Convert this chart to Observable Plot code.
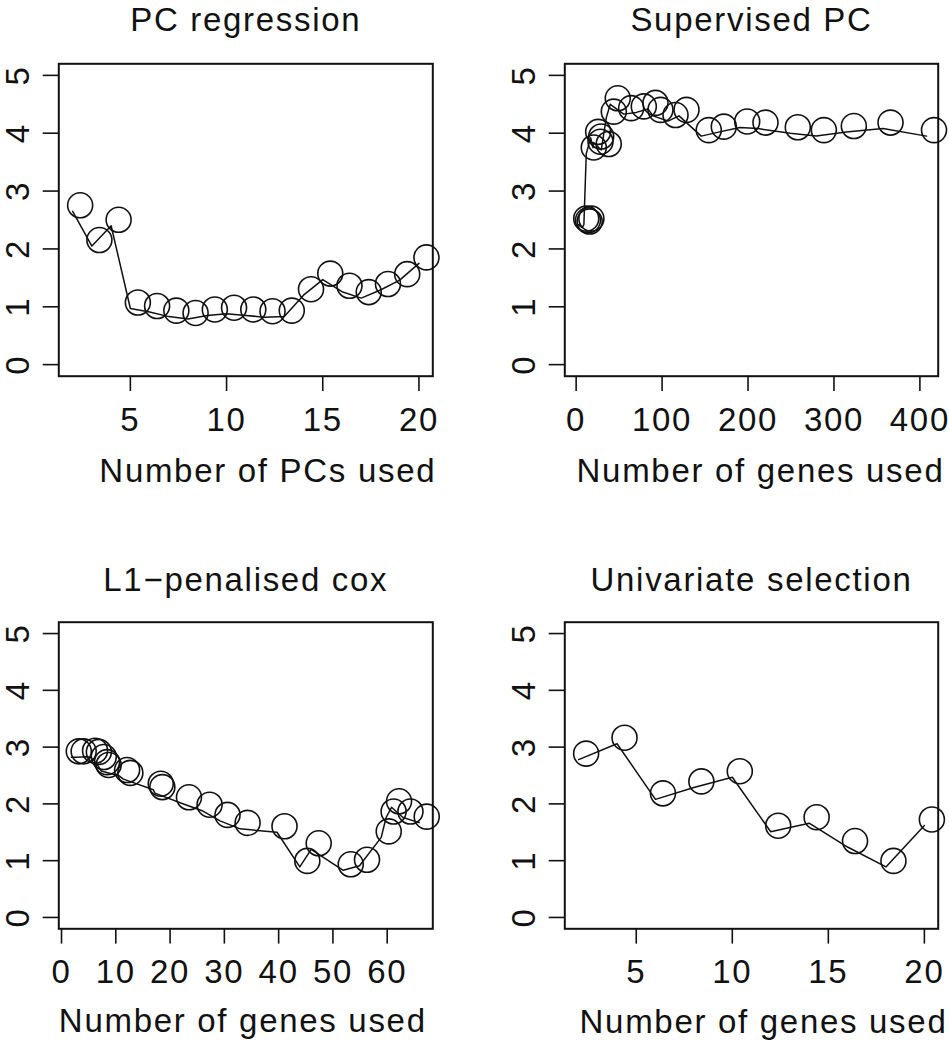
<!DOCTYPE html>
<html>
<head>
<meta charset="utf-8">
<script src="https://cdn.jsdelivr.net/npm/d3@7"></script>
<script src="https://cdn.jsdelivr.net/npm/@observablehq/plot@0.6"></script>
<style>
  html, body { margin: 0; padding: 0; background: #fff; }
  #wrap { position: relative; width: 949px; height: 1050px; overflow: hidden; background: #fff; }
  #wrap > svg { position: absolute; }
</style>
</head>
<body>
<div id="wrap"></div>
<script>
// ---- Data ----
const titles = ["PC regression", "Supervised PC", "L1\u2212penalised cox", "Univariate selection"];
const xLabels = ["Number of PCs used", "Number of genes used", "Number of genes used", "Number of genes used"];
const yTicks = [0, 1, 2, 3, 4, 5];

// PC regression
const pcX = [2, 3, 4, 5, 6, 7, 8, 9, 10, 11, 12, 13, 14, 15, 16, 17, 18, 19, 20];
const pcY = [2.65, 2.05, 2.40, 0.97, 0.91, 0.83, 0.79, 0.85, 0.88, 0.85, 0.82, 0.83, 1.20, 1.47, 1.26, 1.15, 1.29, 1.46, 1.75];
const pcXTicks = [5, 10, 15, 20];

// Supervised PC
const spcX = [3, 5, 7, 9, 11.8, 16.9, 19.6, 20.4, 29.2, 35.1, 39.7, 55.3, 70.0, 83.6, 89.4, 106.9, 119.7, 145.6, 163.1, 190.3, 211.6, 249.2, 279.5, 314.4, 357.1, 407.7];
const spcY = [2.42, 2.39, 2.37, 2.42, 3.65, 3.92, 3.75, 3.84, 3.71, 4.27, 4.50, 4.33, 4.36, 4.42, 4.30, 4.21, 4.30, 3.95, 4.01, 4.10, 4.08, 4.00, 3.95, 4.02, 4.08, 3.95];
const spcXTicks = [0, 100, 200, 300, 400];

// L1-penalised cox
const l1X = [1.8, 2.7, 4.8, 5.5, 6.4, 7.0, 7.3, 10.7, 11.3, 16.9, 17.2, 22.1, 25.9, 29.2, 32.9, 39.7, 43.9, 46.0, 51.9, 54.9, 58.9, 59.8, 60.8, 62.9, 65.9];
const l1Y = [2.82, 2.82, 2.83, 2.81, 2.72, 2.63, 2.58, 2.49, 2.44, 2.25, 2.19, 2.01, 1.88, 1.70, 1.56, 1.50, 0.89, 1.20, 0.83, 0.91, 1.41, 1.76, 1.94, 1.76, 1.67];
const l1XTicks = [0, 10, 20, 30, 40, 50, 60];

// Univariate selection
const uniX = [2, 4, 6, 8, 10, 12, 14, 16, 18, 20];
const uniY = [2.78, 3.06, 2.08, 2.29, 2.47, 1.51, 1.66, 1.24, 0.89, 1.62];
const uniXTicks = [5, 10, 15, 20];

// ---- Layout ----
const FONT = "'Liberation Sans', Arial, Helvetica, sans-serif";
const INK = "#111";

const panels = [
  {xs: pcX, ys: pcY, ticks: pcXTicks, domain: [1.28, 20.72], left: 0, top: 0, w: 475, h: 520,
   m: {l: 58.3, r: 42.7, t: 63.3, b: 144.3}, titleDy: -33.3, labDy: 106, labDx: 22},
  {xs: spcX, ys: spcY, ticks: spcXTicks, domain: [-13.2, 421.3], left: 475, top: 0, w: 474, h: 520,
   m: {l: 89.3, r: 11.3, t: 63.3, b: 144.3}, titleDy: -33.3, labDy: 106, labDx: 9},
  {xs: l1X, ys: l1Y, ticks: l1XTicks, domain: [-0.5, 68.4], left: 0, top: 520, w: 475, h: 530,
   m: {l: 58.3, r: 42.7, t: 101.7, b: 121.7}, titleDy: -31, labDy: 103.5, labDx: -3},
  {xs: uniX, ys: uniY, ticks: uniXTicks, domain: [1.28, 20.72], left: 475, top: 520, w: 474, h: 530,
   m: {l: 89.3, r: 11.3, t: 101.7, b: 121.7}, titleDy: -31, labDy: 104, labDx: 12}
];

const wrap = document.getElementById("wrap");
const fmt = d => String(d);

panels.forEach((p, i) => {
  const data = p.xs.map((x, k) => ({x, y: p.ys[k]}));
  const svg = Plot.plot({
    width: p.w,
    height: p.h,
    marginLeft: p.m.l,
    marginRight: p.m.r,
    marginTop: p.m.t,
    marginBottom: p.m.b,
    style: {fontFamily: FONT, fontSize: "33px", letterSpacing: "1.7px", background: "#fff", color: INK, overflow: "visible"},
    x: {domain: p.domain, label: null},
    y: {domain: [-0.2, 5.2], label: null},
    marks: [
      Plot.frame({stroke: INK, strokeWidth: 2}),
      Plot.axisY(yTicks, {tickSize: 15.6, tickPadding: 14.7, tickRotate: -90, tickFormat: fmt, fontSize: 33, stroke: INK, strokeWidth: 1.6, fill: INK, label: null}),
      Plot.axisX(p.ticks, {tickSize: 15.3, tickPadding: 15.7, tickFormat: fmt, fontSize: 33, stroke: INK, strokeWidth: 1.6, fill: INK, label: null}),
      Plot.line(data, {x: "x", y: "y", stroke: INK, strokeWidth: 1.5}),
      Plot.dot(data, {x: "x", y: "y", r: 12.5, stroke: INK, strokeWidth: 1.6, fill: "none", dx: 7.5, dy: -6}),
      Plot.text([titles[i]], {text: d => d, frameAnchor: "top", lineAnchor: "bottom", dy: p.titleDy, fontSize: 33, fill: INK}),
      Plot.text([xLabels[i]], {text: d => d, frameAnchor: "bottom", lineAnchor: "bottom", dy: p.labDy, dx: p.labDx, fontSize: 33, fill: INK})
    ]
  });
  svg.style.left = p.left + "px";
  svg.style.top = p.top + "px";
  wrap.appendChild(svg);
});
</script>
</body>
</html>
